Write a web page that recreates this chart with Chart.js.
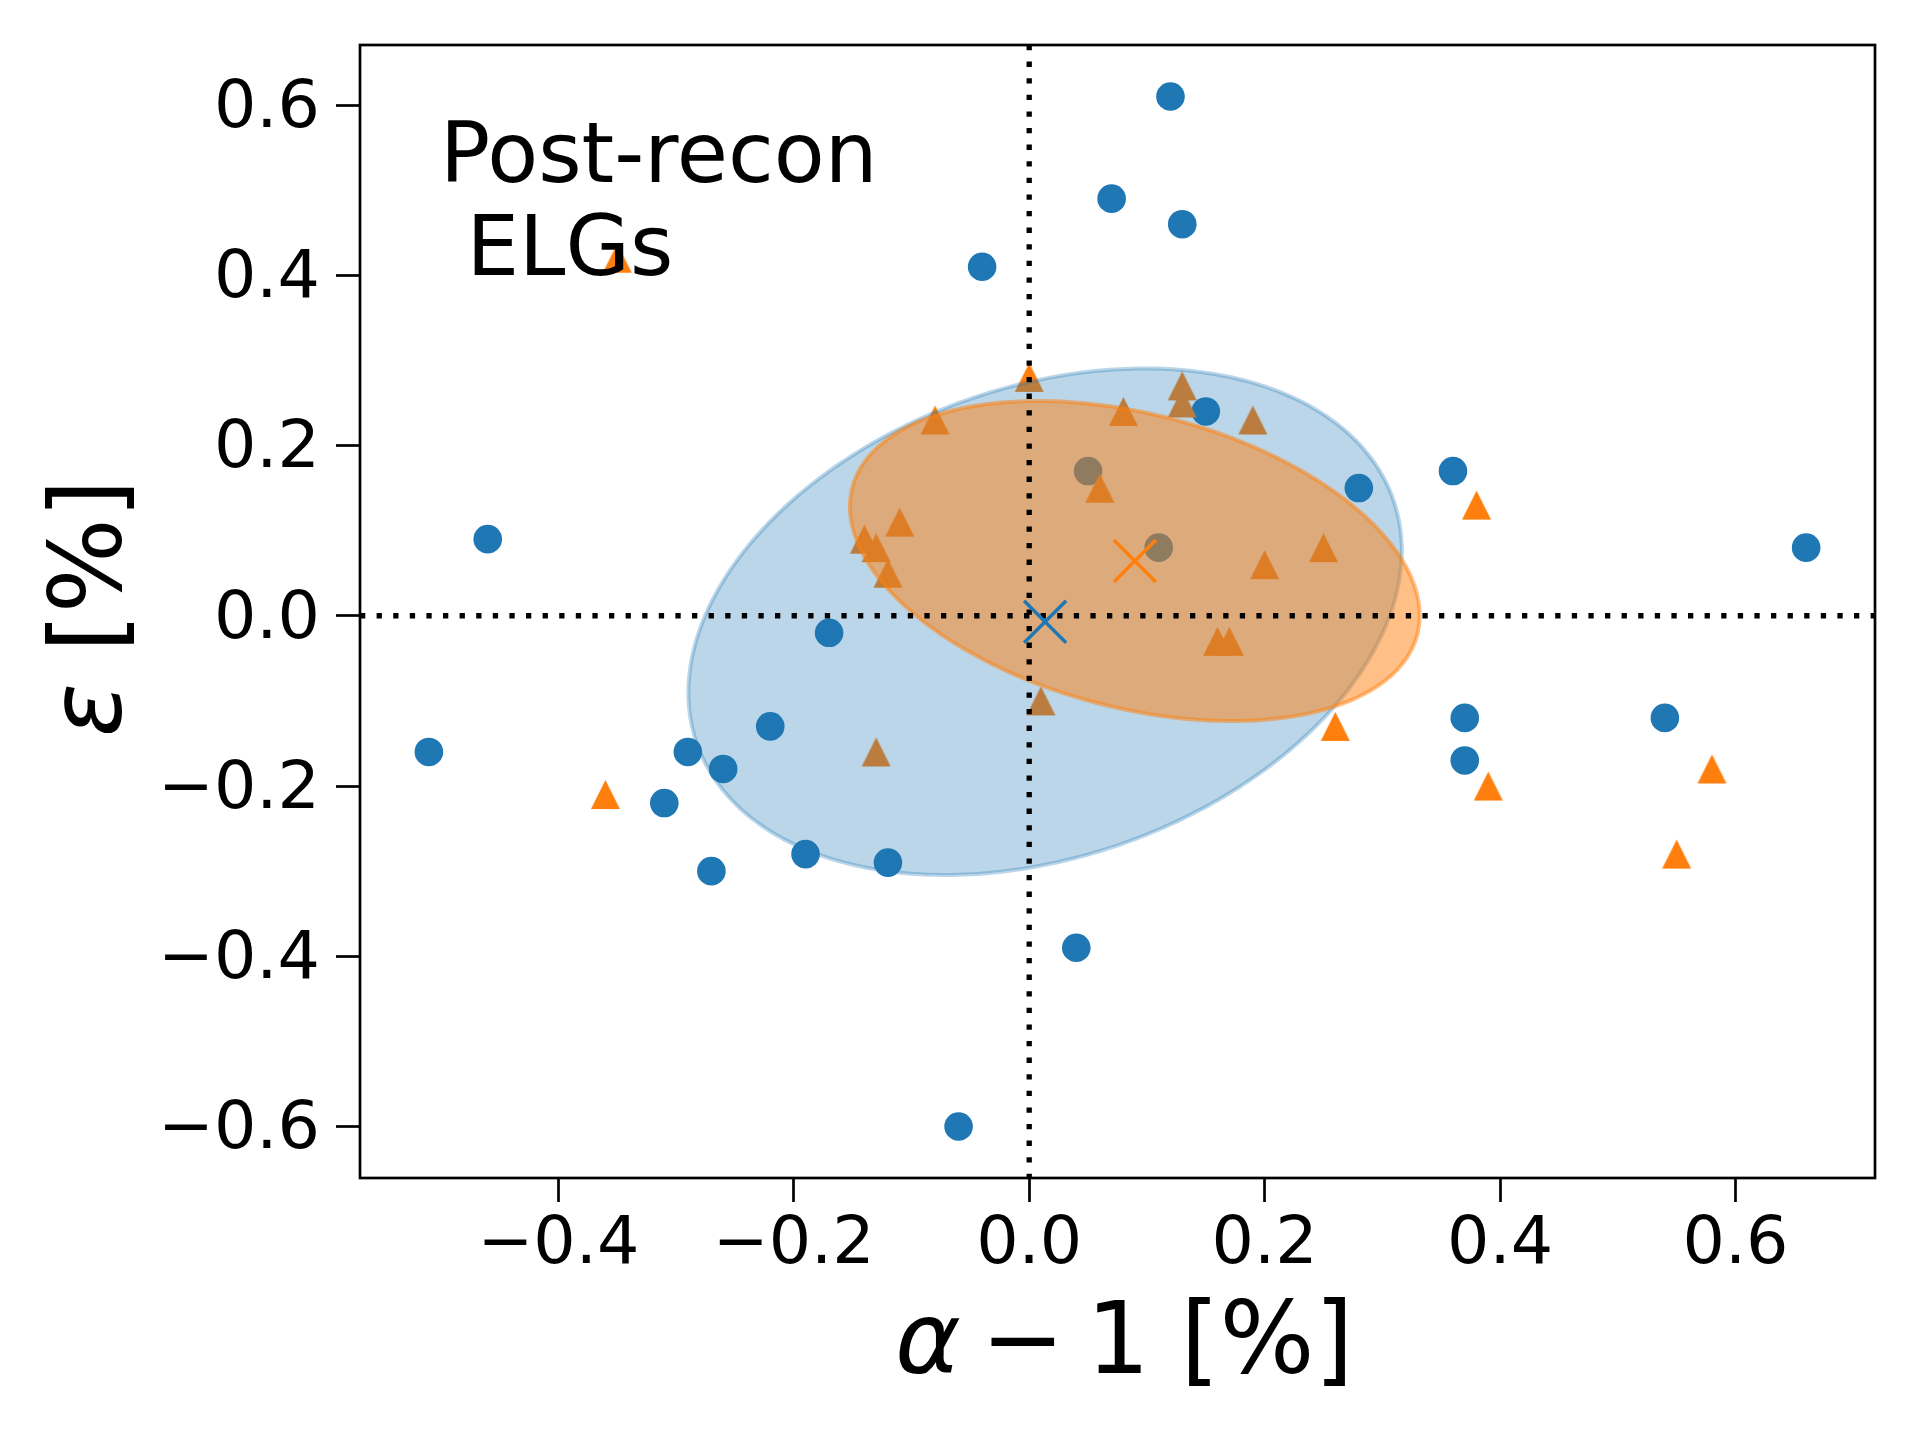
<!DOCTYPE html>
<html>
<head>
<meta charset="utf-8">
<title>Post-recon ELGs</title>
<script src="https://cdn.jsdelivr.net/npm/chart.js@4.4.0/dist/chart.umd.min.js"></script>
<style>
  html, body { margin: 0; padding: 0; background: #fff; }
  #wrap { width: 1920px; height: 1440px; }
</style>
</head>
<body>
<div id="wrap"><canvas id="chart"></canvas></div>
<script>
// blue circles: alpha - 1 [%] and epsilon [%]
var circleAlpha = [0.12, 0.07, 0.13, -0.04, 0.15, 0.05, 0.28, 0.36, 0.11, 0.66, -0.46, -0.17, -0.51,
                   -0.22, -0.29, -0.26, -0.31, -0.27, -0.19, -0.12, 0.04, -0.06, 0.37, 0.37, 0.54];
var circleEps   = [0.61, 0.49, 0.46, 0.41, 0.24, 0.17, 0.15, 0.17, 0.08, 0.08, 0.09, -0.02, -0.16,
                   -0.13, -0.16, -0.18, -0.22, -0.30, -0.28, -0.29, -0.39, -0.60, -0.12, -0.17, -0.12];

// orange triangles
var triangleAlpha = [-0.35, 0.00, 0.13, 0.13, 0.08, 0.19, -0.08, 0.06, 0.38, -0.11, -0.14, -0.13,
                     -0.12, 0.25, 0.20, 0.16, 0.17, 0.01, 0.26, -0.13, -0.36, 0.39, 0.58, 0.55];
var triangleEps   = [0.42, 0.28, 0.27, 0.25, 0.24, 0.23, 0.23, 0.15, 0.13, 0.11, 0.09, 0.08,
                     0.05, 0.08, 0.06, -0.03, -0.03, -0.10, -0.13, -0.16, -0.21, -0.20, -0.18, -0.28];

// mean (x marker) and spread ellipse of each set: [circles, triangles]
var meanAlpha = [0.0135, 0.0897];
var meanEps   = [-0.007, 0.0643];
var spreadAlpha = [0.303, 0.242];
var spreadEps   = [0.2975, 0.188];
var spreadCorr  = [0.28, -0.34];

var xTicks = [-0.4, -0.2, 0.0, 0.2, 0.4, 0.6];
var yTicks = [-0.6, -0.4, -0.2, 0.0, 0.2, 0.4, 0.6];
var xLimits = [-0.5685, 0.7185];
var yLimits = [-0.6605, 0.6705];

var BLUE = '#1f77b4';
var ORANGE = '#ff7f0e';
var FONT = '"DejaVu Sans", "Liberation Sans", sans-serif';

function toPoints(xs, ys) {
    return xs.map(function (v, i) { return {x: v, y: ys[i]}; });
}

function fmtTick(value) {
    var s = Math.abs(value).toFixed(1);
    return value < -1e-9 ? '\u2212' + s : s;
}

// matplotlib style "^" marker
function triangleMarker(size, color) {
    var c = document.createElement('canvas');
    c.width = size + 2;
    c.height = size + 2;
    var g = c.getContext('2d');
    var m = 1, h = size;
    g.fillStyle = color;
    g.beginPath();
    g.moveTo(m + h / 2, m);
    g.lineTo(m, m + h);
    g.lineTo(m + h, m + h);
    g.closePath();
    g.fill();
    return c;
}

function drawEllipse(ctx, xs, ys, k, fill, edge) {
    var r = spreadCorr[k];
    ctx.beginPath();
    for (var d = 0; d <= 360; d++) {
        var t = d * Math.PI / 180;
        var px = xs.getPixelForValue(meanAlpha[k] + spreadAlpha[k] * Math.cos(t));
        var py = ys.getPixelForValue(meanEps[k] + spreadEps[k] * (r * Math.cos(t) + Math.sqrt(1 - r * r) * Math.sin(t)));
        if (d === 0) ctx.moveTo(px, py); else ctx.lineTo(px, py);
    }
    ctx.closePath();
    ctx.fillStyle = fill;
    ctx.fill();
    ctx.lineWidth = 4;
    ctx.strokeStyle = edge;
    ctx.stroke();
}

var overlayPlugin = {
    id: 'overlay',
    afterDatasetDraw: function (chart, args) {
        if (args.index !== 1) return;
        var ctx = chart.ctx, a = chart.chartArea;
        var xs = chart.scales.x, ys = chart.scales.y;
        ctx.save();
        ctx.beginPath();
        ctx.rect(a.left, a.top, a.right - a.left, a.bottom - a.top);
        ctx.clip();
        drawEllipse(ctx, xs, ys, 0, 'rgba(31,119,180,0.3)', 'rgba(31,119,180,0.3)');
        drawEllipse(ctx, xs, ys, 1, 'rgba(255,127,14,0.5)', 'rgba(255,127,14,0.5)');

        // dotted zero lines
        ctx.setLineDash([5.3, 11.3]);
        ctx.lineWidth = 5.3;
        ctx.strokeStyle = '#000';
        var x0 = xs.getPixelForValue(0), y0 = ys.getPixelForValue(0);
        ctx.beginPath();
        ctx.moveTo(a.left, y0);
        ctx.lineTo(a.right, y0);
        ctx.stroke();
        ctx.beginPath();
        ctx.moveTo(x0, a.top);
        ctx.lineTo(x0, a.bottom);
        ctx.stroke();
        ctx.restore();
    },
    afterDraw: function (chart) {
        var ctx = chart.ctx, a = chart.chartArea;
        ctx.save();
        // frame
        ctx.lineWidth = 2.7;
        ctx.strokeStyle = '#000';
        ctx.strokeRect(a.left, a.top, a.right - a.left, a.bottom - a.top);

        ctx.fillStyle = '#000';
        ctx.textBaseline = 'alphabetic';

        // annotation
        ctx.textAlign = 'left';
        ctx.font = '83.3px ' + FONT;
        ctx.fillText('Post-recon', a.left + 80, a.top + 136.7);
        ctx.fillText(' ELGs', a.left + 80, a.top + 229.5);

        // x label: alpha - 1 [%]
        var cx = (a.left + a.right) / 2, by = a.bottom + 195;
        ctx.textAlign = 'center';
        ctx.font = 'italic 100px ' + FONT;
        ctx.fillText('\u03b1', cx - 189.5, by);
        ctx.font = '100px ' + FONT;
        ctx.fillText('\u2212', cx - 94.5, by);
        ctx.fillText('1', cx + 0.5, by);
        ctx.fillText('[%]', cx + 149.5, by);

        // y label: epsilon [%]
        ctx.translate(121, (a.top + a.bottom) / 2);
        ctx.rotate(-Math.PI / 2);
        ctx.font = 'italic 100px ' + FONT;
        ctx.fillText('\u03b5', -98.5, 0);
        ctx.font = '100px ' + FONT;
        ctx.fillText('[%]', 45.7, 0);
        ctx.restore();
    }
};

var tickGrid = {
    display: true,
    drawOnChartArea: false,
    drawTicks: true,
    tickLength: 24,
    tickWidth: 2.7,
    tickColor: '#000'
};

function noPadding(scale) {
    scale.paddingTop = 0;
    scale.paddingBottom = 0;
    scale.paddingLeft = 0;
    scale.paddingRight = 0;
}

new Chart(document.getElementById('chart'), {
    type: 'scatter',
    data: {
        datasets: [{
            label: 'circles',
            data: toPoints(circleAlpha, circleEps),
            pointStyle: 'circle',
            pointRadius: 14.3,
            pointBorderWidth: 0,
            backgroundColor: BLUE,
            borderColor: BLUE,
            order: 4
        }, {
            label: 'triangles',
            data: toPoints(triangleAlpha, triangleEps),
            pointStyle: triangleMarker(29, ORANGE),
            pointRadius: 15,
            pointBorderWidth: 0,
            backgroundColor: ORANGE,
            borderColor: ORANGE,
            order: 3
        }, {
            label: 'circles mean',
            data: [{x: meanAlpha[0], y: meanEps[0]}],
            pointStyle: 'crossRot',
            pointRadius: 29.7,
            pointBorderWidth: 3.5,
            borderColor: BLUE,
            backgroundColor: BLUE,
            order: 2
        }, {
            label: 'triangles mean',
            data: [{x: meanAlpha[1], y: meanEps[1]}],
            pointStyle: 'crossRot',
            pointRadius: 29.7,
            pointBorderWidth: 3.5,
            borderColor: ORANGE,
            backgroundColor: ORANGE,
            order: 1
        }]
    },
    options: {
        responsive: true,
        maintainAspectRatio: false,
        devicePixelRatio: 1,
        animation: false,
        events: [],
        layout: { padding: { left: 0, top: 45, right: 45, bottom: 0 } },
        plugins: { legend: { display: false }, tooltip: { enabled: false } },
        scales: {
            x: {
                type: 'linear',
                min: xLimits[0],
                max: xLimits[1],
                afterBuildTicks: function (scale) {
                    scale.ticks = xTicks.map(function (v) { return {value: v}; });
                },
                afterFit: function (scale) { scale.height = 262; noPadding(scale); },
                grid: tickGrid,
                border: { display: false },
                ticks: {
                    autoSkip: false,
                    maxRotation: 0,
                    padding: 4,
                    color: '#000',
                    font: { family: FONT, size: 66.7 },
                    callback: fmtTick
                }
            },
            y: {
                type: 'linear',
                min: yLimits[0],
                max: yLimits[1],
                afterBuildTicks: function (scale) {
                    scale.ticks = yTicks.map(function (v) { return {value: v}; });
                },
                afterFit: function (scale) { scale.width = 360; noPadding(scale); },
                grid: tickGrid,
                border: { display: false },
                ticks: {
                    autoSkip: false,
                    padding: 16,
                    labelOffset: 4.5,
                    color: '#000',
                    font: { family: FONT, size: 66.7 },
                    callback: fmtTick
                }
            }
        }
    },
    plugins: [overlayPlugin]
});
</script>
</body>
</html>
